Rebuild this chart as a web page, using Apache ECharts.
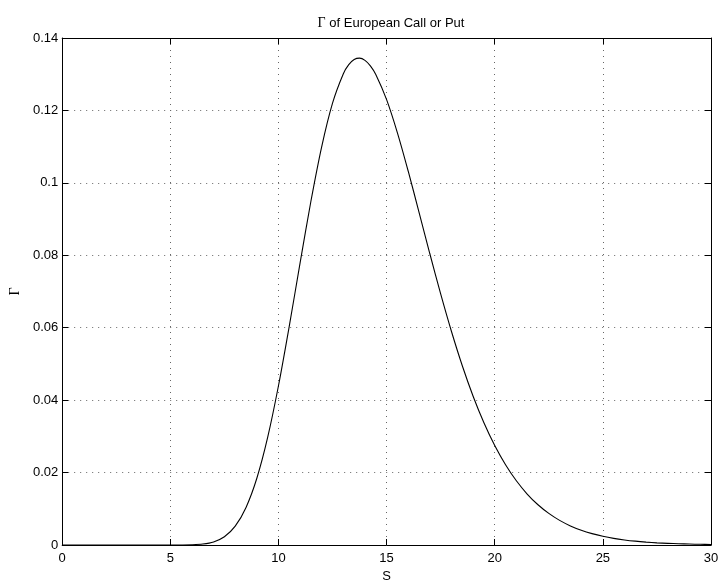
<!DOCTYPE html>
<html>
<head>
<meta charset="utf-8">
<script src="https://cdn.jsdelivr.net/npm/echarts@6/dist/echarts.min.js"></script>
<style>
html,body{margin:0;padding:0;background:#fff;}
#chart{width:722px;height:588px;}
</style>
</head>
<body>
<div id="chart"></div>
<script>
const sValues = [0,1,2,3,4,4.5,5,5.5,6,6.5,7,7.5,8,8.5,9,9.5,10,10.5,11,11.5,12,12.5,13,13.25,13.5,13.75,14,14.25,14.5,15,15.5,16,16.5,17,17.5,18,18.5,19,19.5,20,20.5,21,21.5,22,22.5,23,23.5,24,24.5,25,25.5,26,26.5,27,27.5,28,28.5,29,29.5,30];
const gammaValues = [0,0,0,0,0,0,0.0000015,0.0000118,0.000064,0.000263,0.000852,0.00228,0.00520,0.01038,0.01844,0.02971,0.04397,0.06044,0.07791,0.09492,0.11003,0.12203,0.13015,0.13263,0.13405,0.13443,0.13382,0.13229,0.12991,0.12298,0.11382,0.10321,0.09187,0.08042,0.06933,0.05895,0.04950,0.04109,0.03376,0.02747,0.02216,0.01773,0.01408,0.01111,0.00872,0.00680,0.00528,0.00408,0.00314,0.00240,0.00183,0.00140,0.00106,0.00080,0.00060,0.00046,0.00034,0.00026,0.00019,0.00014];
const xTicks = {min: 0, max: 30, interval: 5};
const yTicks = {min: 0, max: 0.14, interval: 0.02};
const titleGreek = 'Γ';
const titleRest = ' of European Call or Put';
const xName = 'S';
const yName = 'Γ';

const data = sValues.map((s, i) => [s, gammaValues[i]]);
const font = 'Liberation Sans, Arial, Helvetica, sans-serif';
const serif = 'Liberation Serif, Times New Roman, serif';
const gridLine = {show: true, lineStyle: {color: '#666', width: 1, type: [1, 5]}};
const chart = echarts.init(document.getElementById('chart'), null, {renderer: 'canvas'});
chart.setOption({
  animation: false,
  backgroundColor: '#fff',
  title: {
    text: '{g|' + titleGreek + '}{t|' + titleRest + '}',
    left: 386, textAlign: 'center', top: 11,
    textStyle: {
      fontWeight: 'normal',
      rich: {
        g: {fontFamily: serif, fontSize: 14, color: '#000', fontWeight: 'normal'},
        t: {fontFamily: font, fontSize: 13, color: '#000', fontWeight: 'normal'}
      }
    }
  },
  grid: {left: 61, right: 11, top: 38, bottom: 38, containLabel: false},
  xAxis: [{
    type: 'value', min: xTicks.min, max: xTicks.max, interval: xTicks.interval,
    name: xName, nameLocation: 'middle', nameGap: 25,
    nameTextStyle: {fontFamily: font, fontSize: 13, color: '#000'},
    axisLine: {show: true, onZero: false, lineStyle: {color: '#000', width: 1}},
    axisTick: {show: true, inside: true, length: 6, lineStyle: {color: '#000'}},
    axisLabel: {fontFamily: font, fontSize: 13, color: '#000', margin: 7},
    splitLine: gridLine
  }, {
    type: 'value', position: 'top', min: xTicks.min, max: xTicks.max, interval: xTicks.interval,
    axisLine: {show: true, onZero: false, lineStyle: {color: '#000', width: 1}},
    axisTick: {show: true, inside: true, length: 6, lineStyle: {color: '#000'}},
    axisLabel: {show: false}, splitLine: {show: false}
  }],
  yAxis: [{
    type: 'value', min: yTicks.min, max: yTicks.max, interval: yTicks.interval,
    name: yName, nameLocation: 'middle', nameGap: 38, nameRotate: 90,
    nameTextStyle: {fontFamily: serif, fontSize: 14, color: '#000'},
    axisLine: {show: true, onZero: false, lineStyle: {color: '#000', width: 1}},
    axisTick: {show: true, inside: true, length: 6, lineStyle: {color: '#000'}},
    axisLabel: {fontFamily: font, fontSize: 13, color: '#000', margin: 4},
    splitLine: gridLine
  }, {
    type: 'value', position: 'right', min: yTicks.min, max: yTicks.max, interval: yTicks.interval,
    axisLine: {show: true, onZero: false, lineStyle: {color: '#000', width: 1}},
    axisTick: {show: true, inside: true, length: 6, lineStyle: {color: '#000'}},
    axisLabel: {show: false}, splitLine: {show: false}
  }],
  series: [{
    type: 'line', data: data, xAxisIndex: 0, yAxisIndex: 0,
    showSymbol: false, smooth: 0.3,
    lineStyle: {color: '#000', width: 1.1}
  }]
});
</script>
</body>
</html>
